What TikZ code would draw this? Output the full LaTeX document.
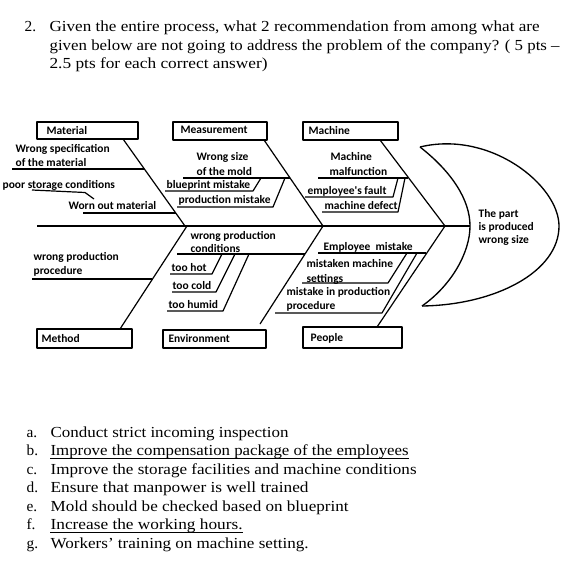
\documentclass[tikz,border=0pt]{standalone}
\usepackage{graphicx}
\usepackage{fontspec}
\setmainfont{Liberation Serif}
\newfontfamily\lblfont{Carlito}[BoldFont=Carlito Bold]
\newcommand{\fitw}[2]{\resizebox{#1pt}{\height}{#2}}
\begin{document}
\begin{tikzpicture}[x=0.75pt,y=-0.75pt,
  line width=0.9pt, line join=round,
  lbl/.style={anchor=base west,inner sep=0pt,font=\lblfont\bfseries\fontsize{8.6}{9.6}\selectfont},
  qtext/.style={anchor=base west,inner sep=0pt,font=\fontsize{11.5}{13}\selectfont},
  uline/.style={line width=0.6pt}]
\useasboundingbox[fill=white] (0,0) rectangle (561,563);
% question
\node[qtext] (q0) at (24,32) {2.};
\node[qtext] (q1) at (49,32) {\fitw{367.5}{Given the entire process, what 2 recommendation from among what are}};
\node[qtext] (q2) at (49,50.5) {\fitw{382.5}{given below are not going to address the problem of the company? ( 5 pts --}};
\node[qtext] (q3) at (49,69) {\fitw{163.5}{2.5 pts for each correct answer)}};
% boxes
\draw[line width=1pt] (37,122) rectangle (138,139);
\node[lbl] (matlbl) at (46,134.5) {Material};
\draw[line width=1pt] (173,122) rectangle (267,140);
\node[lbl] (measlbl) at (180,133.5) {Measurement};
\draw[line width=1pt] (303,122) rectangle (398,140);
\node[lbl] (maclbl) at (308,134.5) {Machine};
\draw[line width=1pt] (37,329) rectangle (132,348);
\node[lbl] (methlbl) at (41,342.5) {Method};
\draw[line width=1pt] (163,330) rectangle (266,348);
\node[lbl] (envlbl) at (168,342.5) {Environment};
\draw[line width=1pt] (303,327) rectangle (402,348);
\node[lbl] (peoplbl) at (310,341.5) {People};
% spine and head
\coordinate (spL) at (37,226);
\coordinate (spR) at (470,226);
\draw (spL) -- (spR);
\coordinate (hT) at (420,147);
\coordinate (hB) at (422,306);
\draw[line width=1pt] (hT) .. controls (490,130) and (559,185) .. (559,226)
  .. controls (559,272) and (495,305) .. (hB);
\draw[line width=1pt] (hT) .. controls (452,172) and (470,200) .. (spR)
  .. controls (470,252) and (452,285) .. (hB);
\node[lbl,align=left,anchor=north west] (head) at (478,209) {The part\\is produced\\wrong size};
% bones
\coordinate (b1a) at (123,139); \coordinate (b1b) at (185,226);
\coordinate (b2a) at (264,140); \coordinate (b2b) at (323,226);
\coordinate (b3a) at (380,140); \coordinate (b3b) at (445,226);
\coordinate (b4a) at (187,226); \coordinate (b4b) at (120,329);
\coordinate (b5a) at (323,226); \coordinate (b5b) at (260,324);
\coordinate (b6a) at (445,226); \coordinate (b6b) at (377,327);
\draw (b1a) -- (b1b);
\draw (b2a) -- (b2b);
\draw (b3a) -- (b3b);
\draw (b4a) -- (b4b);
\draw (b5a) -- (b5b);
\draw (b6a) -- (b6b);
% material causes
\node[lbl] (m1) at (15,152.5) {Wrong specification};
\node[lbl] (m2) at (15,166.5) {of the material};
\draw (12,169) -- (144,169);
\node[lbl] (m3) at (2,188) {poor storage conditions};
\draw (32,190) -- (85,192.5) -- (94,199);
\node[lbl] (m4) at (68,209) {Worn out material};
\draw (83,213) -- (175.5,213);
% measurement causes
\node[lbl] (s1) at (196,161) {Wrong size};
\node[lbl] (s2) at (196,175) {of the mold};
\draw (183,178) -- (290,178);
\node[lbl] (s3) at (166,188.5) {blueprint mistake};
\draw (165,191) -- (253,191) -- (261,178);
\node[lbl] (s4) at (178,203.5) {production mistake};
\draw (177,207) -- (273,207) -- (285,178);
% machine causes
\node[lbl] (c1) at (330,161) {Machine};
\node[lbl] (c2) at (329,175) {malfunction};
\draw (318,178) -- (408,178);
\node[lbl] (c3) at (307,194.5) {employee's fault};
\draw (305,197) -- (393,197) -- (398,178);
\node[lbl] (c4) at (324,209.5) {machine defect};
\draw (322,212) -- (398,212) -- (405,178);
% method
\node[lbl] (t1) at (33,260) {wrong production};
\node[lbl] (t2) at (33,274) {procedure};
\draw (32,279) -- (151.5,279);
% environment
\node[lbl] (e1) at (190,239) {wrong production};
\node[lbl] (e2) at (190,252) {conditions};
\draw (177,254) -- (304.5,254);
\node[lbl] (e3) at (171,271.5) {too hot};
\draw (170,274) -- (212,274) -- (222,254);
\node[lbl] (e4) at (172,289.5) {too cold};
\draw (172,292) -- (216,292) -- (235,254);
\node[lbl] (e5) at (168,308.5) {too humid};
\draw (167,311) -- (223,311) -- (249,254);
% people
\node[lbl] (p1) at (323,250) {Employee\ \ mistake};
\draw (318,253) -- (426,253);
\node[lbl] (p2) at (306,267.5) {mistaken machine};
\node[lbl] (p3) at (306,282) {settings};
\draw (302,283) -- (388,283) -- (407,253);
\node[lbl] (p4) at (286,295) {mistake in production};
\node[lbl] (p5) at (286,309.5) {procedure};
\draw (275,313) -- (382,313) -- (417,253);
% answers
\node[qtext] (la) at (26,437) {a.};
\node[qtext] (ta) at (50,437) {\fitw{178.5}{Conduct strict incoming inspection}};
\node[qtext] (lb) at (26,455.5) {b.};
\node[qtext] (tb) at (50,455.5) {\fitw{268.5}{Improve the compensation package of the employees}};
\draw[uline] ([yshift=-2.2pt]tb.base west) -- ([yshift=-2.2pt]tb.base east);
\node[qtext] (lc) at (26,474) {c.};
\node[qtext] (tc) at (50,474) {\fitw{274.5}{Improve the storage facilities and machine conditions}};
\node[qtext] (ld) at (26,492.5) {d.};
\node[qtext] (td) at (50,492.5) {\fitw{193.5}{Ensure that manpower is well trained}};
\node[qtext] (le) at (26,511) {e.};
\node[qtext] (te) at (50,511) {\fitw{223.5}{Mold should be checked based on blueprint}};
\node[qtext] (lf) at (26,529.5) {f.};
\node[qtext] (tf) at (50,529.5) {\fitw{144}{Increase the working hours.}};
\draw[uline] ([yshift=-2.2pt]tf.base west) -- ([yshift=-2.2pt]tf.base east);
\node[qtext] (lg) at (26,548) {g.};
\node[qtext] (tg) at (50,548) {\fitw{193.5}{Workers' training on machine setting.}};
\end{tikzpicture}
\end{document}
